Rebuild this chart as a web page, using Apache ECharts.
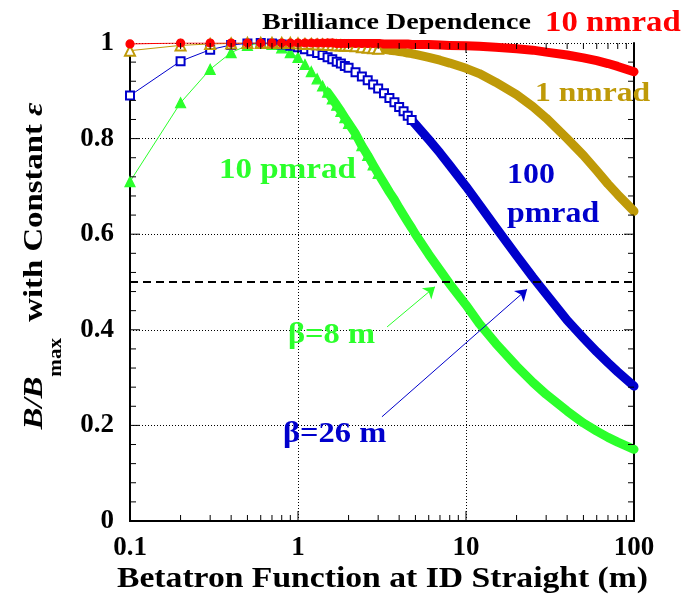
<!DOCTYPE html>
<html>
<head>
<meta charset="utf-8">
<script src="https://cdn.jsdelivr.net/npm/echarts@6/dist/echarts.min.js"></script>
<style>
  html, body { margin: 0; padding: 0; background: #fff; }
  #chart { width: 692px; height: 604px; }
</style>
</head>
<body>
<div id="chart"></div>
<script>
// betatron function (m) sampled along the curves
const beta = [0.1, 0.2, 0.3, 0.4, 0.5, 0.6, 0.7, 0.8, 0.9, 1,
  1.1, 1.2, 1.3, 1.4, 1.5, 1.6, 1.7, 1.8, 1.9, 2,
  2.2, 2.4, 2.6, 2.8, 3,
  3.25, 3.5, 3.75, 4, 4.25, 4.5, 4.75, 5, 6, 7, 8,
  10, 12, 15, 20, 25, 30,
  40, 50, 60, 70, 80, 100];

const nmrad10 = [0.998, 1, 1, 1, 1, 1, 1, 1, 1, 1,
  1, 1, 1, 1, 1, 1, 0.999, 0.999, 0.999, 0.999,
  0.999, 0.999, 0.999, 0.999, 0.999,
  0.998, 0.998, 0.998, 0.998, 0.998, 0.998, 0.997, 0.997, 0.997, 0.996, 0.995,
  0.994, 0.993, 0.991, 0.988, 0.985, 0.981,
  0.975, 0.969, 0.963, 0.957, 0.951, 0.94];

const nmrad1 = [0.984, 0.995, 0.998, 0.999, 1, 1, 1, 1, 1, 0.999,
  0.998, 0.998, 0.997, 0.997, 0.996, 0.996, 0.995, 0.995, 0.994, 0.994,
  0.993, 0.991, 0.99, 0.989, 0.988,
  0.987, 0.985, 0.984, 0.982, 0.981, 0.979, 0.978, 0.976, 0.97, 0.964, 0.958,
  0.947, 0.936, 0.918, 0.892, 0.867, 0.843,
  0.8, 0.765, 0.733, 0.705, 0.683, 0.648];

const pmrad100 = [0.89, 0.962, 0.986, 0.996, 0.999, 1, 0.999, 0.997, 0.994, 0.991,
  0.987, 0.983, 0.979, 0.975, 0.97, 0.966, 0.961, 0.957, 0.952, 0.948,
  0.939, 0.93, 0.922, 0.913, 0.905,
  0.895, 0.885, 0.876, 0.866, 0.857, 0.848, 0.839, 0.83, 0.798, 0.77, 0.744,
  0.7, 0.662, 0.615, 0.555, 0.51, 0.475,
  0.42, 0.383, 0.354, 0.331, 0.312, 0.282];

const pmrad10 = [0.71, 0.875, 0.945, 0.98, 0.995, 1, 0.997, 0.99, 0.98, 0.97,
  0.955, 0.94, 0.925, 0.91, 0.897, 0.883, 0.87, 0.857, 0.844, 0.832,
  0.81, 0.785, 0.765, 0.745, 0.727,
  0.707, 0.688, 0.672, 0.655, 0.64, 0.626, 0.613, 0.6, 0.558, 0.525, 0.496,
  0.452, 0.413, 0.372, 0.324, 0.29, 0.265,
  0.23, 0.205, 0.188, 0.175, 0.165, 0.15];

const halfLevel = 0.5;
const arrow8 = [[3.39, 0.406], [6.54, 0.49]];
const arrow26 = [[3.16, 0.218], [23.1, 0.485]];

// frame ticks
const xMajorTicks = [1, 10];
const xMinorTicks = [0.2, 0.3, 0.4, 0.5, 0.6, 0.7, 0.8, 0.9,
  2, 3, 4, 5, 6, 7, 8, 9, 20, 30, 40, 50, 60, 70, 80, 90];
const yMajorTicks = [0.2, 0.4, 0.6, 0.8];
const yMinorTicks = [0.04, 0.08, 0.12, 0.16, 0.24, 0.28, 0.32, 0.36, 0.44, 0.48, 0.52, 0.56,
  0.64, 0.68, 0.72, 0.76, 0.84, 0.88, 0.92, 0.96];

const FONT = "'Liberation Serif', 'Times New Roman', serif";
const RED = "#ff0000", GOLD = "#bf9a08", BLUE = "#0000cc", GREEN = "#2bff2b";

let chart = echarts.init(document.getElementById("chart"));

// two layers per curve: thin line with markers, then a thick band where the dots merge
function curve(vals, color, symbol, size, markTo, bandFrom, extra) {
  let data = beta.map((b, i) => [b, vals[i]]);
  let marks = {
    type: "line",
    data: data,
    symbol: symbol,
    symbolSize: (v) => (v[0] <= markTo ? size : 0),
    showAllSymbol: true,
    lineStyle: { color: color, width: 1 },
    itemStyle: { color: color, borderColor: color, borderWidth: 1.2 },
    emphasis: { disabled: true },
  };
  let band = {
    type: "line",
    data: data.filter((d) => d[0] >= bandFrom),
    showSymbol: false,
    lineStyle: { color: color, width: 9, cap: "round", join: "round" },
    emphasis: { disabled: true },
  };
  if (extra) band.markLine = extra;
  return [marks, band];
}

// inward ticks on all four sides of the frame
function ticks(values, dir, len) {
  return {
    type: "custom",
    silent: true,
    clip: false,
    z: 20,
    data: values.map((v) => (dir === "x" ? [v, 0.5] : [1, v])),
    renderItem: function (params, api) {
      let cs = params.coordSys;
      let p = api.coord([api.value(0), api.value(1)]);
      let st = { stroke: "#000", lineWidth: 1 };
      let kids;
      if (dir === "x") {
        let b = cs.y + cs.height, t = cs.y;
        kids = [
          { type: "line", shape: { x1: p[0], y1: b, x2: p[0], y2: b - len }, style: st },
          { type: "line", shape: { x1: p[0], y1: t, x2: p[0], y2: t + len }, style: st },
        ];
      } else {
        let l = cs.x, r = cs.x + cs.width;
        kids = [
          { type: "line", shape: { x1: l, y1: p[1], x2: l + len, y2: p[1] }, style: st },
          { type: "line", shape: { x1: r, y1: p[1], x2: r - len, y2: p[1] }, style: st },
        ];
      }
      return { type: "group", children: kids };
    },
  };
}

const frameLine = { show: true, lineStyle: { color: "#000", width: 2 } };
const dotted = { show: true, lineStyle: { color: "#000", type: [1, 2], width: 1 } };
const tickFont = { color: "#000", fontFamily: FONT, fontWeight: "bold", fontSize: 27 };

let option = {
  animation: false,
  backgroundColor: "#fff",
  grid: { left: 130, right: 58, top: 43, bottom: 83 },
  xAxis: [
    {
      type: "log", logBase: 10, min: 0.1, max: 100, position: "bottom",
      axisLine: frameLine, axisTick: { show: false },
      axisLabel: Object.assign({ margin: 14 }, tickFont),
      splitLine: dotted,
    },
    {
      type: "log", logBase: 10, min: 0.1, max: 100, position: "top",
      axisLine: frameLine, axisTick: { show: false },
      axisLabel: { show: false }, splitLine: { show: false },
    },
  ],
  yAxis: [
    {
      type: "value", min: 0, max: 1, interval: 0.2, position: "left",
      axisLine: frameLine, axisTick: { show: false },
      axisLabel: Object.assign({ margin: 16 }, tickFont),
      splitLine: dotted,
    },
    {
      type: "value", min: 0, max: 1, interval: 0.2, position: "right",
      axisLine: frameLine, axisTick: { show: false },
      axisLabel: { show: false }, splitLine: { show: false },
    },
  ],
  series: [
    ticks(xMajorTicks, "x", 10),
    ticks(xMinorTicks, "x", 6),
    ticks(yMajorTicks, "y", 10),
    ticks(yMinorTicks, "y", 6),
    ...curve(pmrad10, GREEN, "triangle", 10, 3, 1.5, {
      silent: true,
      label: { show: false },
      data: [
        [
          { coord: arrow8[0], symbol: "none" },
          { coord: arrow8[1], symbol: "arrow", symbolSize: 11 },
        ],
      ],
      lineStyle: { color: GREEN, width: 1, type: "solid" },
    }),
    ...curve(pmrad100, BLUE, "emptyRect", 8, 4.75, 4.75, {
      silent: true,
      label: { show: false },
      symbol: "none",
      data: [
        { yAxis: halfLevel, lineStyle: { color: "#000", width: 2, type: [8, 5] } },
        [
          { coord: arrow26[0], symbol: "none" },
          { coord: arrow26[1], symbol: "arrow", symbolSize: 11 },
        ],
      ],
      lineStyle: { color: BLUE, width: 1, type: "solid" },
    }),
    ...curve(nmrad1, GOLD, "emptyTriangle", 10, 3, 2),
    ...curve(nmrad10, RED, "circle", 8, 3, 1.5),
  ],
  graphic: [
    {
      type: "text", x: 262, y: 12, scaleX: 1.22, z: 100,
      style: { text: "Brilliance Dependence", fill: "#000", font: "bold 23px " + FONT, align: "left", verticalAlign: "top" },
    },
    {
      type: "text", x: 545, y: 9, scaleX: 1.13, z: 100,
      style: { text: "10 nmrad", fill: RED, font: "bold 29px " + FONT, align: "left", verticalAlign: "top" },
    },
    {
      type: "text", x: 535, y: 80, scaleX: 1.13, z: 100,
      style: { text: "1 nmrad", fill: GOLD, font: "bold 28px " + FONT, align: "left", verticalAlign: "top" },
    },
    {
      type: "text", x: 219, y: 156, scaleX: 1.14, z: 100,
      style: { text: "10 pmrad", fill: GREEN, font: "bold 29px " + FONT, align: "left", verticalAlign: "top" },
    },
    {
      type: "text", x: 507, y: 161, scaleX: 1.1, z: 100,
      style: { text: "100", fill: BLUE, font: "bold 29px " + FONT, align: "left", verticalAlign: "top" },
    },
    {
      type: "text", x: 507, y: 200, scaleX: 1.1, z: 100,
      style: { text: "pmrad", fill: BLUE, font: "bold 29px " + FONT, align: "left", verticalAlign: "top" },
    },
    {
      type: "text", x: 288, y: 321, scaleX: 1.12, z: 100,
      style: { text: "β=8 m", fill: GREEN, font: "bold 29px " + FONT, align: "left", verticalAlign: "top" },
    },
    {
      type: "text", x: 283, y: 420, scaleX: 1.12, z: 100,
      style: { text: "β=26 m", fill: BLUE, font: "bold 29px " + FONT, align: "left", verticalAlign: "top" },
    },
    {
      type: "text", x: 117, y: 565, scaleX: 1.16, z: 100,
      style: { text: "Betatron Function at ID Straight (m)", fill: "#000", font: "bold 29px " + FONT, align: "left", verticalAlign: "top" },
    },
    {
      type: "text", x: 43, y: 266, rotation: Math.PI / 2, scaleX: 1.17, z: 100,
      style: {
        text: "{i|B/B}{s|max}{n|  with Constant }{i|ε}",
        align: "center",
        verticalAlign: "middle",
        fill: "#000",
        rich: {
          i: { fontFamily: FONT, fontWeight: "bold", fontStyle: "italic", fontSize: 28, fill: "#000", lineHeight: 44, verticalAlign: "top" },
          s: { fontFamily: FONT, fontWeight: "bold", fontSize: 18, fill: "#000", lineHeight: 44, verticalAlign: "bottom" },
          n: { fontFamily: FONT, fontWeight: "bold", fontSize: 28, fill: "#000", lineHeight: 44, verticalAlign: "top" },
        },
      },
    },
  ],
};

chart.setOption(option);
</script>
</body>
</html>
